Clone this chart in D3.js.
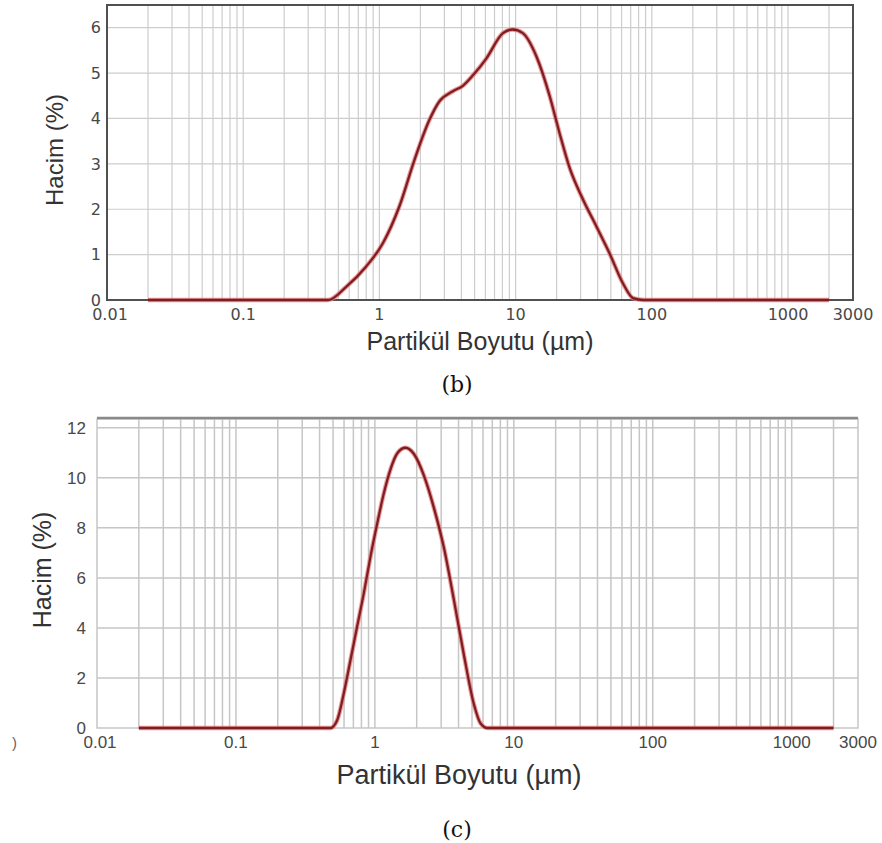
<!DOCTYPE html>
<html>
<head>
<meta charset="utf-8">
<script src="https://cdn.jsdelivr.net/npm/d3@7"></script>
<style>
  html, body { margin: 0; padding: 0; background: #fff; }
  svg { display: block; }
</style>
</head>
<body>
<svg id="fig" width="882" height="843"></svg>
<script>
// ── Data ──────────────────────────────────────────────────────────
const xTickVals = [0.01, 0.1, 1, 10, 100, 1000, 3000];

// (b) particle size distribution
const sizesB = [0.02, 0.1, 0.3, 0.42, 0.57, 0.80, 1.06, 1.40, 1.81, 2.33, 2.76, 3.46, 4.10, 4.86,
                6.09, 8.07, 9.5, 11.3, 14.2, 17.8, 21.0, 25.0, 31.3, 39.2, 48.9, 61.3, 72.9, 87, 200, 2000];
const volB   = [0, 0, 0, 0, 0.29, 0.74, 1.25, 2.06, 3.09, 3.97, 4.38, 4.60, 4.72, 4.95,
                5.32, 5.88, 5.96, 5.88, 5.37, 4.49, 3.68, 2.90, 2.21, 1.62, 1.03, 0.37, 0.04, 0, 0, 0];
const yTicksB = [0, 1, 2, 3, 4, 5, 6];

// (c) particle size distribution
const sizesC = [0.02, 0.1, 0.3, 0.479, 0.535, 0.597, 0.667, 0.744, 0.832, 0.929, 1.04, 1.16, 1.29,
                1.45, 1.66, 1.91, 2.25, 2.66, 3.14, 3.71, 4.38, 5.16, 5.77, 6.45, 20, 2000];
const volC   = [0, 0, 0, 0, 0.31, 1.38, 2.71, 4.04, 5.38, 6.84, 8.18, 9.38, 10.31,
                10.98, 11.2, 10.95, 10.1, 8.8, 7.2, 5.1, 2.9, 0.95, 0.18, 0, 0, 0];
const yTicksC = [0, 2, 4, 6, 8, 10, 12];

const xLabel = "Partikül Boyutu (µm)";
const yLabel = "Hacim (%)";

// gridline positions: 1..9 × each decade, inside 0.01–3000
const gridVals = [];
[0.01, 0.1, 1, 10, 100, 1000].forEach(d => {
  for (let k = 1; k <= 9; k++) {
    const v = +(k * d).toPrecision(3);
    if (v > 0.01 && v < 3000) gridVals.push(v);
  }
});

const svg = d3.select("#fig");

// ── Panel ─────────────────────────────────────────────────────────
function drawPanel(p) {
  const x = d3.scaleLog().domain([0.01, 3000]).range([p.left, p.right]);
  const y = d3.scaleLinear().domain([0, p.yMax]).range([p.bottom, p.top]);
  const g = svg.append("g");

  // grid
  g.append("g").selectAll("line").data(gridVals).join("line")
    .attr("x1", d => x(d)).attr("x2", d => x(d))
    .attr("y1", p.top).attr("y2", p.bottom)
    .attr("stroke", p.gridColor).attr("stroke-width", p.gridWidth);
  g.append("g").selectAll("line").data(p.yTicks.filter(v => v > 0)).join("line")
    .attr("x1", p.left).attr("x2", p.right)
    .attr("y1", d => y(d)).attr("y2", d => y(d))
    .attr("stroke", p.gridColor).attr("stroke-width", p.gridWidth);

  // frame
  if (p.boxed) {
    g.append("rect")
      .attr("x", p.left).attr("y", p.top)
      .attr("width", p.right - p.left).attr("height", p.bottom - p.top)
      .attr("fill", "none").attr("stroke", "#505050").attr("stroke-width", 2);
  } else {
    g.append("rect")
      .attr("x", p.left).attr("y", p.top)
      .attr("width", p.right - p.left).attr("height", p.bottom - p.top)
      .attr("fill", "none").attr("stroke", p.gridColor).attr("stroke-width", p.gridWidth);
    g.append("line")
      .attr("x1", p.left).attr("x2", p.right)
      .attr("y1", p.top - 1).attr("y2", p.top - 1)
      .attr("stroke", "#8a8a8a").attr("stroke-width", 2.5);
  }

  // curve: light red halo under a dark red core
  const line = d3.line()
    .x(d => x(d[0])).y(d => y(d[1]))
    .curve(d3.curveMonotoneX);
  const pts = d3.zip(p.sizes, p.vals);
  g.append("path").datum(pts)
    .attr("d", line).attr("fill", "none")
    .attr("stroke", "#e5787a").attr("stroke-width", 4.5).attr("stroke-opacity", 0.75)
    .attr("stroke-linejoin", "round");
  g.append("path").datum(pts)
    .attr("d", line).attr("fill", "none")
    .attr("stroke", "#7d1f22").attr("stroke-width", 2.3)
    .attr("stroke-linejoin", "round");

  // tick labels
  g.append("g").selectAll("text").data(p.yTicks).join("text")
    .attr("x", p.left - p.yLabelGap).attr("y", d => y(d))
    .attr("dy", "0.36em").attr("text-anchor", "end")
    .attr("font-family", p.tickFont).attr("font-size", p.tickSize)
    .attr("fill", "#484848")
    .text(d => d);
  g.append("g").selectAll("text").data(xTickVals).join("text")
    .attr("x", d => x(d) + (d === 0.01 ? 3 : 0)).attr("y", p.bottom + p.xLabelDrop)
    .attr("text-anchor", "middle")
    .attr("font-family", p.tickFont).attr("font-size", p.tickSize)
    .attr("fill", "#484848")
    .text(d => d);

  // axis titles
  g.append("text")
    .attr("x", p.xTitleX).attr("y", p.xTitleY)
    .attr("text-anchor", "middle")
    .attr("font-family", "Liberation Sans, Arial, sans-serif")
    .attr("font-size", p.titleSize).attr("fill", "#333")
    .text(xLabel);
  g.append("text")
    .attr("transform", `translate(${p.yTitleX},${p.yTitleY}) rotate(-90)`)
    .attr("text-anchor", "middle")
    .attr("font-family", "Liberation Sans, Arial, sans-serif")
    .attr("font-size", p.yTitleSize).attr("fill", "#333")
    .text(yLabel);

  // caption
  svg.append("text")
    .attr("x", p.capX).attr("y", p.capY)
    .attr("text-anchor", "middle")
    .attr("font-family", "DejaVu Serif, Liberation Serif, serif")
    .attr("font-size", 22).attr("fill", "#111")
    .text(p.caption);
}

drawPanel({
  left: 107, right: 853, top: 5, bottom: 300, yMax: 6.5,
  sizes: sizesB, vals: volB, yTicks: yTicksB,
  boxed: true, gridColor: "#cdcdcd", gridWidth: 1.2,
  tickFont: "DejaVu Sans, Verdana, sans-serif", tickSize: 16,
  yLabelGap: 6, xLabelDrop: 20,
  xTitleX: 480, xTitleY: 350, yTitleX: 63, yTitleY: 150,
  titleSize: 25, yTitleSize: 24,
  capX: 457, capY: 392, caption: "(b)"
});

drawPanel({
  left: 97, right: 858, top: 419, bottom: 728, yMax: 12.35,
  sizes: sizesC, vals: volC, yTicks: yTicksC,
  boxed: false, gridColor: "#c6c6c6", gridWidth: 1.5,
  tickFont: "Liberation Sans, Arial, sans-serif", tickSize: 17,
  yLabelGap: 11, xLabelDrop: 20,
  xTitleX: 459, xTitleY: 784, yTitleX: 51, yTitleY: 570,
  titleSize: 27, yTitleSize: 25,
  capX: 457, capY: 837, caption: "(c)"
});

// stray crop artefact at the left edge of (c)
svg.append("text")
  .attr("x", 12).attr("y", 748)
  .attr("font-family", "Liberation Sans, Arial, sans-serif")
  .attr("font-size", 15).attr("fill", "#666")
  .text(")");
</script>
</body>
</html>
